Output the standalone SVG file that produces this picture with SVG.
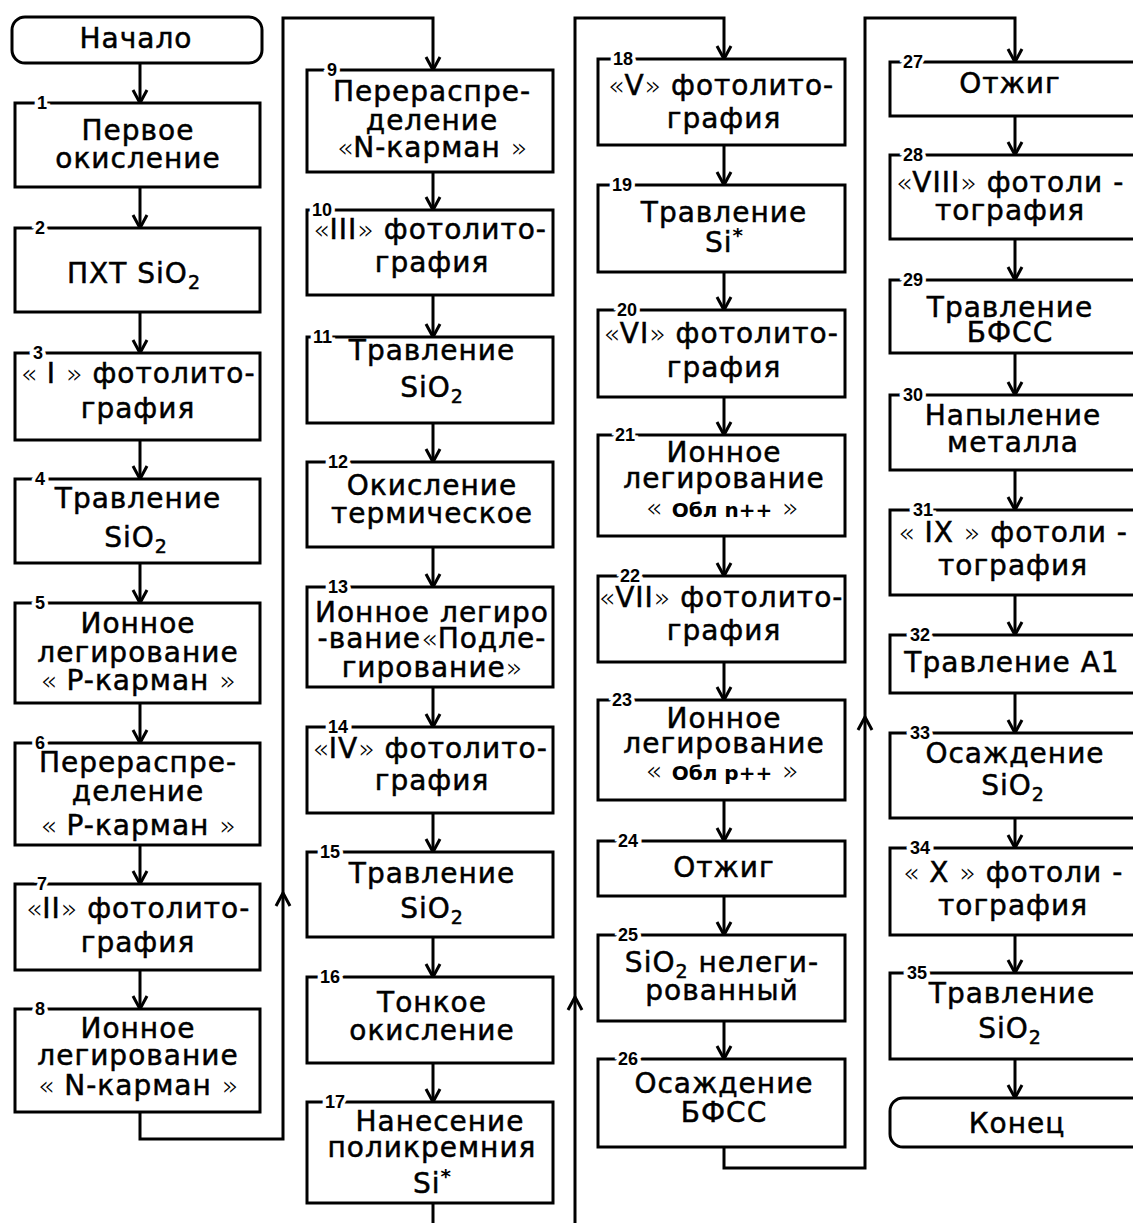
<svg xmlns="http://www.w3.org/2000/svg" width="1133" height="1223" viewBox="0 0 1133 1223">
<style>
.box{fill:#fff;stroke:#000;stroke-width:3}
.ln{fill:none;stroke:#000;stroke-width:3}
.t{font-family:'DejaVu Sans',sans-serif;font-size:28px;letter-spacing:1px;text-anchor:middle;fill:#000;stroke:#000;stroke-width:0.5}
.q{font-weight:200;font-size:27px;letter-spacing:0;stroke-width:0}
.s{font-size:19px}
.sb{font-size:20px;font-weight:bold;letter-spacing:0;stroke-width:0}
.n{font-family:'Liberation Sans',sans-serif;font-weight:bold;font-size:18px;fill:#000;stroke:#fff;stroke-width:7;paint-order:stroke}
</style>
<defs>
<marker id="ah" markerUnits="userSpaceOnUse" orient="auto" markerWidth="30" markerHeight="30" viewBox="-20 -15 30 30" refX="0" refY="0" overflow="visible">
<path d="M-13,-7 L0,0 L-13,7" fill="none" stroke="#000" stroke-width="3"/>
</marker>
</defs>
<rect width="1133" height="1223" fill="#fff"/>
<g id="connectors" class="ln">
<path d="M140,63 V103" marker-end="url(#ah)"/>
<path d="M140,187 V228" marker-end="url(#ah)"/>
<path d="M140,312 V353" marker-end="url(#ah)"/>
<path d="M140,440 V479" marker-end="url(#ah)"/>
<path d="M140,563 V603" marker-end="url(#ah)"/>
<path d="M140,703 V743" marker-end="url(#ah)"/>
<path d="M140,845 V884" marker-end="url(#ah)"/>
<path d="M140,970 V1009" marker-end="url(#ah)"/>
<path d="M140,1112 V1139 H283 V893" marker-end="url(#ah)"/>
<path d="M283,893 V18 H433 V70" marker-end="url(#ah)"/>
<path d="M433,172 V210" marker-end="url(#ah)"/>
<path d="M433,295 V337" marker-end="url(#ah)"/>
<path d="M433,423 V462" marker-end="url(#ah)"/>
<path d="M433,547 V587" marker-end="url(#ah)"/>
<path d="M433,687 V727" marker-end="url(#ah)"/>
<path d="M433,813 V852" marker-end="url(#ah)"/>
<path d="M433,937 V977" marker-end="url(#ah)"/>
<path d="M433,1063 V1102" marker-end="url(#ah)"/>
<path d="M433,1203 V1226"/>
<path d="M575,1226 V997" marker-end="url(#ah)"/>
<path d="M575,997 V18 H724 V59" marker-end="url(#ah)"/>
<path d="M724,145 V185" marker-end="url(#ah)"/>
<path d="M724,272 V310" marker-end="url(#ah)"/>
<path d="M724,397 V435" marker-end="url(#ah)"/>
<path d="M724,536 V576" marker-end="url(#ah)"/>
<path d="M724,662 V700" marker-end="url(#ah)"/>
<path d="M724,800 V841" marker-end="url(#ah)"/>
<path d="M724,896 V935" marker-end="url(#ah)"/>
<path d="M724,1021 V1059" marker-end="url(#ah)"/>
<path d="M724,1147 V1168 H865 V717" marker-end="url(#ah)"/>
<path d="M865,717 V18 H1015 V62" marker-end="url(#ah)"/>
<path d="M1015,116 V155" marker-end="url(#ah)"/>
<path d="M1015,239 V280" marker-end="url(#ah)"/>
<path d="M1015,353 V395" marker-end="url(#ah)"/>
<path d="M1015,470 V510" marker-end="url(#ah)"/>
<path d="M1015,595 V635" marker-end="url(#ah)"/>
<path d="M1015,693 V733" marker-end="url(#ah)"/>
<path d="M1015,818 V848" marker-end="url(#ah)"/>
<path d="M1015,935 V973" marker-end="url(#ah)"/>
<path d="M1015,1059 V1098" marker-end="url(#ah)"/>
</g>

<g id="start"><rect class="box" x="12" y="17" width="250" height="46" rx="13"/><text class="t" x="136" y="48">Начало</text></g>

<g id="n1"><rect class="box" x="15" y="103" width="245" height="84"/><text class="n" x="37" y="109">1</text><text class="t" x="138" y="140">Первое</text><text class="t" x="138" y="168">окисление</text></g>
<g id="n2"><rect class="box" x="15" y="228" width="245" height="84"/><text class="n" x="35" y="234">2</text><text class="t" x="134" y="283">ПХТ SiO<tspan class="s" dy="6">2</tspan></text></g>
<g id="n3"><rect class="box" x="15" y="353" width="245" height="87"/><text class="n" x="33" y="359">3</text><text class="t" x="138" y="383"><tspan class="q">«</tspan> I <tspan class="q">»</tspan> фотолито-</text><text class="t" x="138" y="418">графия</text></g>
<g id="n4"><rect class="box" x="15" y="479" width="245" height="84"/><text class="n" x="35" y="485">4</text><text class="t" x="138" y="508">Травление</text><text class="t" x="136" y="547">SiO<tspan class="s" dy="6">2</tspan></text></g>
<g id="n5"><rect class="box" x="15" y="603" width="245" height="100"/><text class="n" x="35" y="609">5</text><text class="t" x="138" y="633">Ионное</text><text class="t" x="138" y="662">легирование</text><text class="t" x="138" y="690"><tspan class="q">«</tspan> P-карман <tspan class="q">»</tspan></text></g>
<g id="n6"><rect class="box" x="15" y="743" width="245" height="102"/><text class="n" x="35" y="749">6</text><text class="t" x="138" y="772">Перераспре-</text><text class="t" x="138" y="801">деление</text><text class="t" x="138" y="835"><tspan class="q">«</tspan> P-карман <tspan class="q">»</tspan></text></g>
<g id="n7"><rect class="box" x="15" y="884" width="245" height="86"/><text class="n" x="37" y="890">7</text><text class="t" x="138" y="918"><tspan class="q">«</tspan>II<tspan class="q">»</tspan> фотолито-</text><text class="t" x="138" y="952">графия</text></g>
<g id="n8"><rect class="box" x="15" y="1009" width="245" height="103"/><text class="n" x="35" y="1015">8</text><text class="t" x="138" y="1038">Ионное</text><text class="t" x="138" y="1065">легирование</text><text class="t" x="138" y="1095"><tspan class="q">«</tspan> N-карман <tspan class="q">»</tspan></text></g>

<g id="n9"><rect class="box" x="307" y="70" width="246" height="102"/><text class="n" x="327" y="76">9</text><text class="t" x="432" y="101">Перераспре-</text><text class="t" x="432" y="130">деление</text><text class="t" x="432" y="157"><tspan class="q">«</tspan>N-карман <tspan class="q">»</tspan></text></g>
<g id="n10"><rect class="box" x="307" y="210" width="246" height="85"/><text class="n" x="312" y="216">10</text><text class="t" x="430" y="239"><tspan class="q">«</tspan>III<tspan class="q">»</tspan> фотолито-</text><text class="t" x="432" y="272">графия</text></g>
<g id="n11"><rect class="box" x="307" y="337" width="246" height="86"/><text class="n" x="313" y="343">11</text><text class="t" x="432" y="360">Травление</text><text class="t" x="432" y="397">SiO<tspan class="s" dy="6">2</tspan></text></g>
<g id="n12"><rect class="box" x="307" y="462" width="246" height="85"/><text class="n" x="328" y="468">12</text><text class="t" x="432" y="495">Окисление</text><text class="t" x="432" y="523">термическое</text></g>
<g id="n13"><rect class="box" x="307" y="587" width="246" height="100"/><text class="n" x="328" y="593">13</text><text class="t" x="432" y="622">Ионное легиро</text><text class="t" x="432" y="648">-вание<tspan class="q">«</tspan>Подле-</text><text class="t" x="432" y="677">гирование<tspan class="q">»</tspan></text></g>
<g id="n14"><rect class="box" x="307" y="727" width="246" height="86"/><text class="n" x="328" y="733">14</text><text class="t" x="430" y="758"><tspan class="q">«</tspan>IV<tspan class="q">»</tspan> фотолито-</text><text class="t" x="432" y="790">графия</text></g>
<g id="n15"><rect class="box" x="307" y="852" width="246" height="85"/><text class="n" x="320" y="858">15</text><text class="t" x="432" y="883">Травление</text><text class="t" x="432" y="918">SiO<tspan class="s" dy="6">2</tspan></text></g>
<g id="n16"><rect class="box" x="307" y="977" width="246" height="86"/><text class="n" x="320" y="983">16</text><text class="t" x="432" y="1012">Тонкое</text><text class="t" x="432" y="1040">окисление</text></g>
<g id="n17"><rect class="box" x="307" y="1102" width="246" height="101"/><text class="n" x="325" y="1108">17</text><text class="t" x="440" y="1131">Нанесение</text><text class="t" x="432" y="1157">поликремния</text><text class="t" x="432" y="1193">Si<tspan class="sb" dy="-10">*</tspan></text></g>

<g id="n18"><rect class="box" x="598" y="59" width="247" height="86"/><text class="n" x="613" y="65">18</text><text class="t" x="721" y="95"><tspan class="q">«</tspan>V<tspan class="q">»</tspan> фотолито-</text><text class="t" x="724" y="128">графия</text></g>
<g id="n19"><rect class="box" x="598" y="185" width="247" height="87"/><text class="n" x="612" y="191">19</text><text class="t" x="724" y="222">Травление</text><text class="t" x="724" y="252">Si<tspan class="sb" dy="-10">*</tspan></text></g>
<g id="n20"><rect class="box" x="598" y="310" width="247" height="87"/><text class="n" x="617" y="316">20</text><text class="t" x="721" y="343"><tspan class="q">«</tspan>VI<tspan class="q">»</tspan> фотолито-</text><text class="t" x="724" y="377">графия</text></g>
<g id="n21"><rect class="box" x="598" y="435" width="247" height="101"/><text class="n" x="615" y="441">21</text><text class="t" x="724" y="462">Ионное</text><text class="t" x="724" y="488">легирование</text><text class="t" x="722" y="517"><tspan class="q">«</tspan> <tspan class="sb">Обл n++</tspan> <tspan class="q">»</tspan></text></g>
<g id="n22"><rect class="box" x="598" y="576" width="247" height="86"/><text class="n" x="620" y="582">22</text><text class="t" x="721" y="607"><tspan class="q">«</tspan>VII<tspan class="q">»</tspan> фотолито-</text><text class="t" x="724" y="640">графия</text></g>
<g id="n23"><rect class="box" x="598" y="700" width="247" height="100"/><text class="n" x="612" y="706">23</text><text class="t" x="724" y="728">Ионное</text><text class="t" x="724" y="753">легирование</text><text class="t" x="722" y="780"><tspan class="q">«</tspan> <tspan class="sb">Обл p++</tspan> <tspan class="q">»</tspan></text></g>
<g id="n24"><rect class="box" x="598" y="841" width="247" height="55"/><text class="n" x="618" y="847">24</text><text class="t" x="724" y="877">Отжиг</text></g>
<g id="n25"><rect class="box" x="598" y="935" width="247" height="86"/><text class="n" x="618" y="941">25</text><text class="t" x="722" y="972">SiO<tspan class="s" dy="6">2</tspan><tspan dy="-6"> нелеги-</tspan></text><text class="t" x="722" y="1000">рованный</text></g>
<g id="n26"><rect class="box" x="598" y="1059" width="247" height="88"/><text class="n" x="618" y="1065">26</text><text class="t" x="724" y="1093">Осаждение</text><text class="t" x="724" y="1122">БФСС</text></g>

<g id="n27"><rect class="box" x="890" y="62" width="260" height="54"/><text class="n" x="903" y="68">27</text><text class="t" x="1010" y="93">Отжиг</text></g>
<g id="n28"><rect class="box" x="890" y="155" width="260" height="84"/><text class="n" x="903" y="161">28</text><text class="t" x="1010" y="192"><tspan class="q">«</tspan>VIII<tspan class="q">»</tspan> фотоли -</text><text class="t" x="1010" y="220">тография</text></g>
<g id="n29"><rect class="box" x="890" y="280" width="260" height="73"/><text class="n" x="903" y="286">29</text><text class="t" x="1010" y="317">Травление</text><text class="t" x="1010" y="342">БФСС</text></g>
<g id="n30"><rect class="box" x="890" y="395" width="260" height="75"/><text class="n" x="903" y="401">30</text><text class="t" x="1013" y="425">Напыление</text><text class="t" x="1013" y="452">металла</text></g>
<g id="n31"><rect class="box" x="890" y="510" width="260" height="85"/><text class="n" x="913" y="516">31</text><text class="t" x="1013" y="542"><tspan class="q">«</tspan> IX <tspan class="q">»</tspan> фотоли -</text><text class="t" x="1013" y="575">тография</text></g>
<g id="n32"><rect class="box" x="890" y="635" width="260" height="58"/><text class="n" x="910" y="641">32</text><text class="t" x="1012" y="672">Травление А1</text></g>
<g id="n33"><rect class="box" x="890" y="733" width="260" height="85"/><text class="n" x="910" y="739">33</text><text class="t" x="1015" y="763">Осаждение</text><text class="t" x="1013" y="795">SiO<tspan class="s" dy="6">2</tspan></text></g>
<g id="n34"><rect class="box" x="890" y="848" width="260" height="87"/><text class="n" x="910" y="854">34</text><text class="t" x="1013" y="882"><tspan class="q">«</tspan> X <tspan class="q">»</tspan>  фотоли -</text><text class="t" x="1013" y="915">тография</text></g>
<g id="n35"><rect class="box" x="890" y="973" width="260" height="86"/><text class="n" x="907" y="979">35</text><text class="t" x="1012" y="1003">Травление</text><text class="t" x="1010" y="1038">SiO<tspan class="s" dy="6">2</tspan></text></g>
<g id="end"><rect class="box" x="890" y="1098" width="260" height="49" rx="13"/><text class="t" x="1017" y="1133">Конец</text></g>
</svg>
